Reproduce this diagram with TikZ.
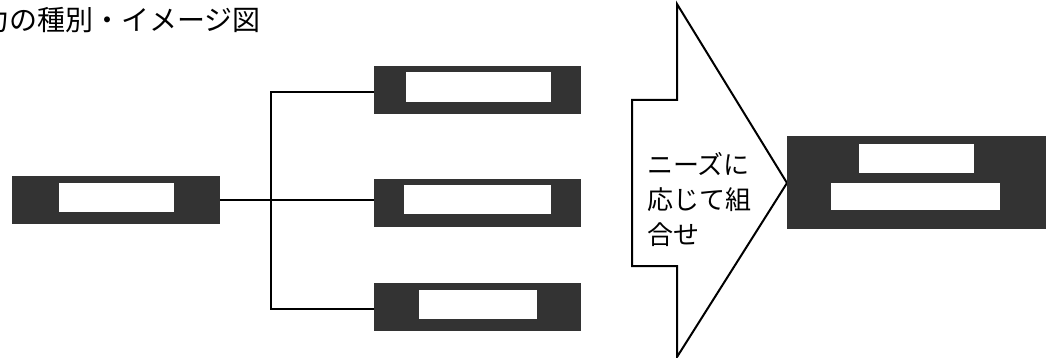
\documentclass[tikz,border=0pt]{standalone}
\usepackage{fontspec}
\setmainfont{Noto Sans CJK JP}
\usetikzlibrary{positioning}

\tikzset{
  darkbox/.style={fill=black!80, draw=none, inner sep=0pt},
  slot/.style={fill=white, draw=none, inner sep=0pt},
  link/.style={line width=2pt, black},
}

\begin{document}
\begin{tikzpicture}[x=1pt, y=-1pt]
  \useasboundingbox (0,0) rectangle (1047,358);

  % title
  \node[anchor=west, inner sep=0pt, font=\fontsize{28}{32}\selectfont] (title) at (-19,20) {力の種別・イメージ図};

  % left box
  \node[darkbox, minimum width=208, minimum height=48] (base) at (116,200) {};
  \node[slot, minimum width=115, minimum height=29] (baseslot) at (116.5,197.5) {};

  % three options
  \node[darkbox, minimum width=207, minimum height=48] (opta) at (477.5,90) {};
  \node[slot, minimum width=145, minimum height=30] (optaslot) at (478.5,87) {};
  \node[darkbox, minimum width=207, minimum height=48] (optb) at (477.5,203) {};
  \node[slot, minimum width=147, minimum height=29] (optbslot) at (477.5,200) {};
  \node[darkbox, minimum width=207, minimum height=48] (optc) at (477.5,307) {};
  \node[slot, minimum width=118, minimum height=29] (optcslot) at (477.5,304.5) {};

  % connectors
  \coordinate (fork) at (271,200);
  \draw[link] (base.east) -- (fork);
  \draw[link] ([yshift=-2]opta.west) -| (fork) |- ([yshift=-2]optc.west);
  \draw[link] (fork) -- ([yshift=3]optb.west);

  % big arrow
  \draw[line width=2pt, line join=miter] (632,100) -- (677,100) -- (677,4) -- (787,183)
    -- (677,357) -- (677,266) -- (632,266) -- cycle;
  \node[anchor=west, align=left, inner sep=0pt, font=\fontsize{26}{35}\selectfont] (note) at (647,200) {ニーズに\\応じて組\\合せ};

  % combined box
  \node[darkbox, minimum width=259, minimum height=93] (combo) at (916.5,183) {};
  \node[slot, minimum width=115, minimum height=29] (comboa) at (916.5,158.5) {};
  \node[slot, minimum width=169, minimum height=27] (combob) at (915.5,196.5) {};
\end{tikzpicture}
\end{document}
